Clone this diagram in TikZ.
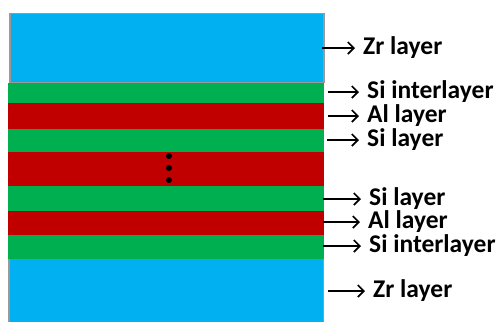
\documentclass[tikz,border=0pt]{standalone}
\usepackage{fontspec}
\setmainfont{Carlito}
\usetikzlibrary{arrows.meta}
\definecolor{zrblue}{RGB}{0,176,240}
\definecolor{sigreen}{RGB}{0,176,80}
\definecolor{alred}{RGB}{192,0,0}
\tikzset{
  lay/.style={rectangle, inner sep=0, anchor=north west, minimum width=316pt},
  lab/.style={anchor=west, inner sep=0, inner xsep=8pt, font=\fontsize{25.5}{28}\selectfont\bfseries},
  arr/.style={-{Straight Barb[length=6pt,width=12pt]}, line width=1.7pt}
}
\begin{document}
\begin{tikzpicture}[x=1pt,y=-1pt]
\useasboundingbox (0,0) rectangle (501,322);
% layers, top to bottom
\node[lay, fill=zrblue, draw=gray!80, line width=1.5pt, minimum width=314pt, minimum height=69pt] (lay0) at (9,12.5){};
\node[lay, fill=sigreen, minimum height=20pt] (lay1) at (8,83){};
\node[lay, fill=alred, minimum height=26pt] (lay2) at (8,103){};
\node[lay, fill=sigreen, minimum height=23pt] (lay3) at (8,129){};
\node[lay, fill=alred, minimum height=34pt] (lay4) at (8,152){};
\node[lay, fill=sigreen, minimum height=25pt] (lay5) at (8,186){};
\node[lay, fill=alred, minimum height=24pt] (lay6) at (8,211){};
\node[lay, fill=sigreen, minimum height=24pt] (lay7) at (8,235){};
\node[lay, fill=zrblue, minimum width=314pt, minimum height=63pt] (lay8) at (9,259){};
\draw[gray!80, line width=1.5pt] (lay8.north west) -- (lay8.south west);
\draw[gray!80, line width=1.5pt] (lay8.north east) -- (lay8.south east);
% dots
\node[circle, fill, inner sep=0, minimum size=6pt] (dot0) at (169,156){};
\node[circle, fill, inner sep=0, minimum size=6pt] (dot1) at (169,168){};
\node[circle, fill, inner sep=0, minimum size=6pt] (dot2) at (169,180){};
% labels
\node[lab] (lab0) at (355,48){Zr layer};
\node[lab] (lab1) at (359,92){Si interlayer};
\node[lab] (lab2) at (359,116){Al layer};
\node[lab] (lab3) at (359,140){Si layer};
\node[lab] (lab4) at (361,199){Si layer};
\node[lab] (lab5) at (360,222){Al layer};
\node[lab] (lab6) at (361,246){Si interlayer};
\node[lab] (lab7) at (365,291){Zr layer};
\coordinate (s0) at (322,48);
\coordinate (s1) at (328,92);
\coordinate (s2) at (328,116);
\coordinate (s3) at (327,140);
\coordinate (s4) at (323,199);
\coordinate (s5) at (323,222);
\coordinate (s6) at (323,246);
\coordinate (s7) at (328,291);
\draw[arr] (s0) -- (lab0.west);
\draw[arr] (s1) -- (lab1.west);
\draw[arr] (s2) -- (lab2.west);
\draw[arr] (s3) -- (lab3.west);
\draw[arr] (s4) -- (lab4.west);
\draw[arr] (s5) -- (lab5.west);
\draw[arr] (s6) -- (lab6.west);
\draw[arr] (s7) -- (lab7.west);

\end{tikzpicture}
\end{document}
